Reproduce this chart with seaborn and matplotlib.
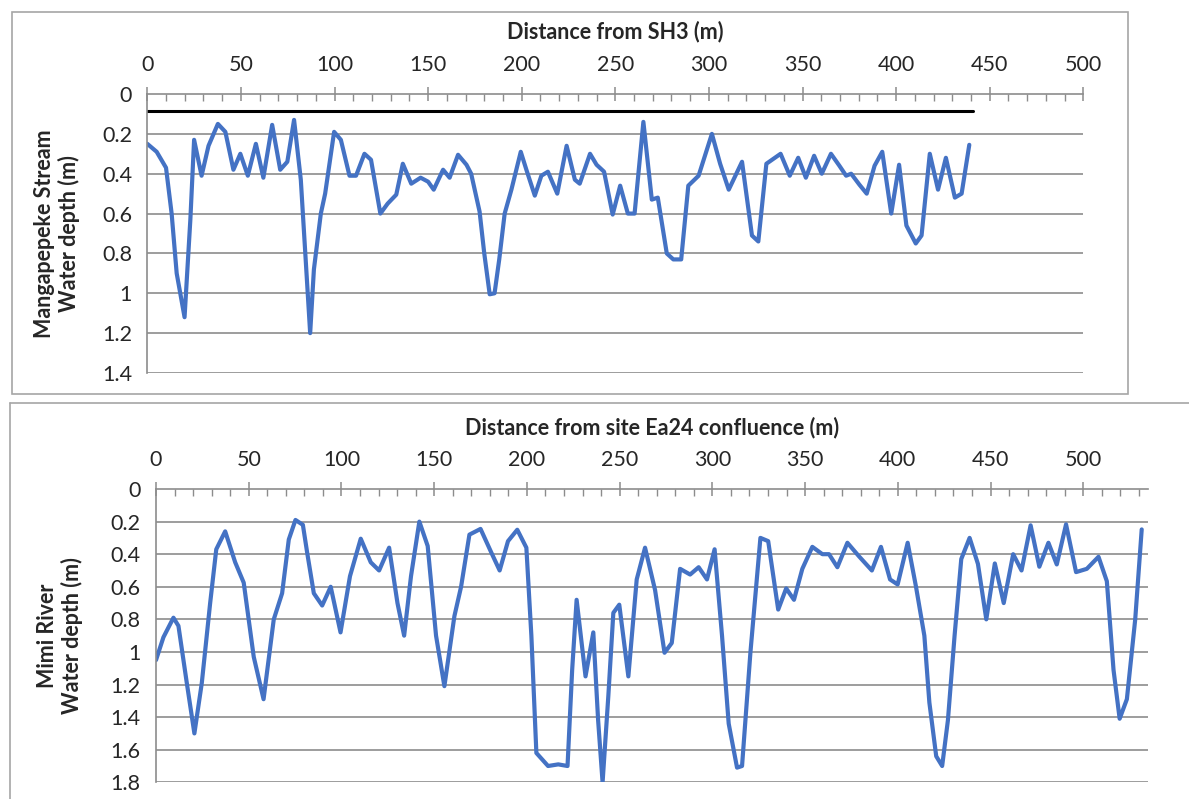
import matplotlib
matplotlib.use("Agg")
import matplotlib.pyplot as plt
from matplotlib.ticker import MultipleLocator, FuncFormatter
from matplotlib.patches import Rectangle
from matplotlib.lines import Line2D
import seaborn as sns
import pandas as pd

# ---------------- data ----------------
top_dist = [0, 5, 10, 13, 15.7, 19.9, 23, 25, 29, 32.7, 37.7, 41.7, 46, 49.7, 53.7, 58, 62,
            66.7, 71, 74.8, 78.4, 82, 87, 89, 92.7, 95, 99.8, 103.4, 108, 111.5, 116, 119.5,
            124.5, 128.4, 133, 136.5, 141, 146, 150, 153, 158, 161.5, 166, 170.5, 173, 177.5,
            180, 182.9, 185.5, 188, 190.9, 194.5, 199.5, 202.5, 207, 210.5, 214, 219, 224,
            228.4, 231, 236.5, 240, 244, 248.6, 252.6, 256.7, 260.3, 265, 269.5, 272.7, 277.5,
            281, 285.2, 289, 294.5, 301.6, 306, 310.6, 317.7, 323, 326.4, 330.7, 338.3, 343.2,
            347.7, 351.8, 356.2, 360.3, 365.2, 369.7, 373.3, 376, 380.4, 384.3, 388.5, 392.6,
            397.4, 401.6, 405.5, 410.5, 413.6, 418, 422.4, 426.6, 431.4, 435, 439.1]
top_depth = [0.25, 0.29, 0.37, 0.60, 0.90, 1.12, 0.63, 0.23, 0.41, 0.26, 0.15, 0.19, 0.38, 0.30,
             0.41, 0.25, 0.42, 0.155, 0.38, 0.34, 0.13, 0.43, 1.20, 0.88, 0.60, 0.50, 0.19, 0.23,
             0.41, 0.41, 0.30, 0.33, 0.60, 0.55, 0.505, 0.35, 0.45, 0.42, 0.44, 0.48, 0.38, 0.42,
             0.305, 0.355, 0.40, 0.59, 0.80, 1.005, 1.0, 0.83, 0.60, 0.48, 0.29, 0.38, 0.51, 0.41,
             0.39, 0.50, 0.26, 0.43, 0.45, 0.30, 0.355, 0.39, 0.605, 0.46, 0.60, 0.60, 0.14, 0.53,
             0.52, 0.80, 0.83, 0.83, 0.46, 0.41, 0.20, 0.35, 0.48, 0.34, 0.71, 0.74, 0.35, 0.30,
             0.41, 0.32, 0.42, 0.31, 0.40, 0.30, 0.36, 0.41, 0.40, 0.455, 0.50, 0.36, 0.29, 0.60,
             0.355, 0.66, 0.75, 0.71, 0.30, 0.48, 0.32, 0.52, 0.50, 0.255]

# reference level line in upper panel
reach_dist = [0, 441]
reach_depth = [0.083, 0.083]

bot_dist = [0, 4, 9.4, 12.1, 16.6, 20.7, 24.7, 29.2, 32.5, 37.3, 42.7, 47.3, 52.7, 58, 63.5, 68,
            71.6, 75.2, 79.2, 81.5, 85.1, 89.6, 94.2, 99.5, 104.6, 110.4, 115.8, 120.3, 125.7,
            130.2, 133.8, 137.5, 142, 146.5, 151, 155.5, 160.9, 164.5, 169, 175, 180.8, 185.3,
            189.8, 194.8, 199.7, 202.4, 205.1, 211.4, 216.9, 221.9, 224.4, 226.8, 231.6, 235.8,
            238.4, 240.8, 243.9, 246.6, 249.8, 254.7, 259.2, 263.7, 269.1, 274.2, 278.1, 282.6,
            288, 292.6, 297.1, 301.2, 305.2, 308.8, 313.3, 316, 320.5, 325.9, 330.1, 335.5,
            339.8, 344, 348.5, 353.9, 359.3, 362.9, 367.4, 372.8, 379.2, 386, 390.9, 395.8,
            399.9, 405.3, 409.8, 414.3, 417, 420.7, 423.9, 427, 430.6, 434.2, 438.7, 443.2,
            447.7, 452.3, 457.1, 462.2, 466.7, 471.6, 476.3, 481.2, 485.7, 490.7, 496.1, 501.9,
            508.2, 512.7, 516.3, 519.6, 523.5, 528, 531.5]
bot_depth = [1.05, 0.91, 0.79, 0.84, 1.19, 1.50, 1.19, 0.70, 0.37, 0.26, 0.45, 0.575, 1.03, 1.29,
             0.80, 0.64, 0.31, 0.19, 0.22, 0.39, 0.64, 0.715, 0.60, 0.88, 0.535, 0.305, 0.45,
             0.50, 0.36, 0.70, 0.90, 0.535, 0.20, 0.35, 0.90, 1.21, 0.78, 0.60, 0.28, 0.245,
             0.39, 0.50, 0.32, 0.25, 0.36, 0.90, 1.62, 1.70, 1.69, 1.70, 1.11, 0.68, 1.15, 0.88,
             1.42, 1.80, 1.27, 0.76, 0.71, 1.15, 0.555, 0.36, 0.62, 1.005, 0.945, 0.49, 0.525,
             0.48, 0.555, 0.37, 0.90, 1.44, 1.71, 1.70, 1.005, 0.30, 0.32, 0.74, 0.61, 0.68,
             0.49, 0.355, 0.40, 0.40, 0.48, 0.33, 0.415, 0.50, 0.355, 0.555, 0.586, 0.33, 0.60,
             0.90, 1.31, 1.64, 1.70, 1.42, 0.90, 0.43, 0.30, 0.46, 0.80, 0.457, 0.70, 0.40, 0.50,
             0.223, 0.477, 0.33, 0.463, 0.217, 0.51, 0.49, 0.416, 0.566, 1.11, 1.41, 1.29, 0.80,
             0.248]

top_xlabel = "Distance from SH3 (m)"
top_ylabel = "Mangapepeke Stream\nWater depth (m)"
bot_xlabel = "Distance from site Ea24 confluence (m)"
bot_ylabel = "Mimi River\nWater depth (m)"

# ---------------- style ----------------
sns.set_theme(style="white")
plt.rcParams['font.family'] = ['Lato', 'DejaVu Sans']

BLUE = "#4472C4"
GRID = "#8c8c8c"
TXT = "#262626"
LABEL_FS = 15.5
TICK_FS = 15.5

fig = plt.figure(figsize=(11.89, 7.99), dpi=100)

# panel frames
fig.patches.append(Rectangle((12 / 1189, 1 - 394 / 799), (1128 - 12) / 1189, (394 - 12) / 799,
                             transform=fig.transFigure, fill=False, edgecolor="#a6a6a6", lw=1.2))
fig.add_artist(Line2D([10 / 1189, 1.0], [1 - 403 / 799] * 2, transform=fig.transFigure,
                      color="#a6a6a6", lw=1.2))
fig.add_artist(Line2D([10 / 1189] * 2, [0, 1 - 403 / 799], transform=fig.transFigure,
                      color="#a6a6a6", lw=1.2))

ax1 = fig.add_axes([147.3 / 1189, 1 - 373 / 799, (1083.3 - 147.3) / 1189, (373 - 94) / 799])
ax2 = fig.add_axes([156 / 1189, 1 - 782.3 / 799, (1148.2 - 156) / 1189, (782.3 - 489) / 799])


def fmt(v, pos):
    s = f"{v:.1f}"
    if s.endswith(".0"):
        s = s[:-2]
    return s


def style(ax, xmax, ymax, yminor):
    ax.set_xlim(0, xmax)
    ax.set_ylim(ymax, 0)
    ax.xaxis.set_ticks_position('top')
    ax.xaxis.set_label_position('top')
    ax.xaxis.set_major_locator(MultipleLocator(50))
    ax.xaxis.set_minor_locator(MultipleLocator(10))
    ax.yaxis.set_major_locator(MultipleLocator(0.2))
    ax.yaxis.set_minor_locator(MultipleLocator(yminor))
    ax.yaxis.set_major_formatter(FuncFormatter(fmt))
    for s in ['right', 'bottom']:
        ax.spines[s].set_visible(False)
    for s in ['top', 'left']:
        ax.spines[s].set_color(GRID)
        ax.spines[s].set_linewidth(1.2)
    ax.tick_params(which='major', axis='both', direction='inout', length=10, width=1.1,
                   color=GRID, labelsize=TICK_FS, labelcolor=TXT)
    ax.tick_params(which='major', axis='x', pad=9)
    ax.tick_params(which='major', axis='y', pad=6)
    ax.tick_params(which='minor', axis='both', direction='in', length=5, width=1.0, color=GRID)
    ax.tick_params(axis='x', which='both', top=True, bottom=False)
    ax.grid(False)
    for yv in [i * 0.2 for i in range(1, int(round(ymax / 0.2)) + 1)]:
        ax.axhline(yv, color=GRID, lw=1.2, zorder=0)


style(ax1, 500, 1.4, 0.04)
style(ax2, 535, 1.8, 0.05)

df_top = pd.DataFrame({"dist": top_dist, "depth": top_depth})
df_reach = pd.DataFrame({"dist": reach_dist, "depth": reach_depth})
df_bot = pd.DataFrame({"dist": bot_dist, "depth": bot_depth})

sns.lineplot(data=df_reach, x="dist", y="depth", ax=ax1, color="black", lw=2.2,
             estimator=None, sort=False)
sns.lineplot(data=df_top, x="dist", y="depth", ax=ax1, color=BLUE, lw=3.0,
             estimator=None, sort=False, solid_joinstyle='round', solid_capstyle='round')
sns.lineplot(data=df_bot, x="dist", y="depth", ax=ax2, color=BLUE, lw=3.0,
             estimator=None, sort=False, solid_joinstyle='round', solid_capstyle='round')

for ax in (ax1, ax2):
    ax.xaxis.set_label_position('top')

ax1.set_xlabel(top_xlabel, fontsize=LABEL_FS, fontweight='bold', color=TXT, labelpad=12)
ax1.set_ylabel(top_ylabel, fontsize=LABEL_FS, fontweight='bold', color=TXT, labelpad=16,
               linespacing=1.15)
ax2.set_xlabel(bot_xlabel, fontsize=LABEL_FS, fontweight='bold', color=TXT, labelpad=11)
ax2.set_ylabel(bot_ylabel, fontsize=LABEL_FS, fontweight='bold', color=TXT, labelpad=20,
               linespacing=1.15)

fig.savefig("out.png", dpi=100, facecolor="white")
